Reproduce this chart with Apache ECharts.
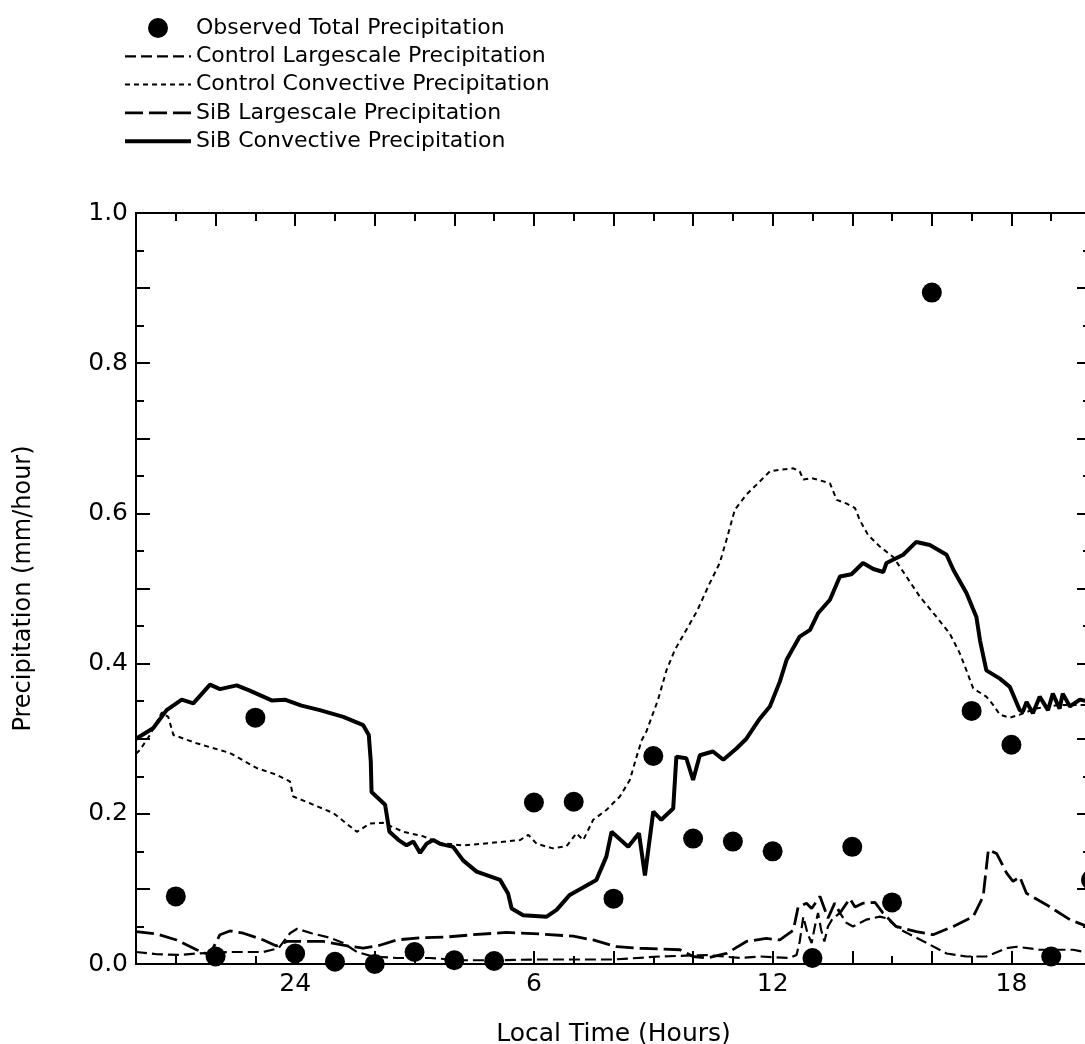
<!DOCTYPE html>
<html><head><meta charset="utf-8">
<script src="https://cdn.jsdelivr.net/npm/echarts@6/dist/echarts.min.js"></script>
<style>html,body{margin:0;padding:0;background:#fff}#c{width:1085px;height:1044px}</style>
</head><body><div id="c"></div>
<script>
// ---- Data (x = hours since 00 of day 1; 24 = midnight, 30 = 6h, 36 = 12h, 42 = 18h) ----
const obsHours  = [21,22,23,24,25,26,27,28,29,30,31,32,33,34,35,36,37,38,39,40,41,42,43,44];
const obsValues = [0.090,0.010,0.328,0.014,0.003,0.000,0.016,0.005,0.004,0.215,0.216,0.087,0.277,0.167,0.163,0.150,0.008,0.156,0.082,0.894,0.337,0.292,0.010,0.112];

const ctlLsHours  = [20.0,20.52,21.1,21.52,22.36,23.2,23.58,23.87,24.05,24.41,24.87,25.21,25.55,25.96,26.55,27.39,28.22,29.0,30.0,31.0,32.0,33.17,34.34,35.18,35.68,36.43,36.6,36.68,36.77,36.88,36.98,37.06,37.14,37.22,37.3,37.39,37.5,37.69,37.85,38.02,38.35,38.69,38.86,39.2,39.87,40.37,40.87,41.37,41.88,42.13,42.71,43.55,44.0];
const ctlLsValues = [0.016,0.013,0.012,0.014,0.016,0.016,0.021,0.041,0.047,0.041,0.035,0.028,0.016,0.010,0.008,0.008,0.005,0.005,0.006,0.006,0.006,0.010,0.012,0.008,0.010,0.008,0.012,0.030,0.063,0.040,0.028,0.050,0.068,0.045,0.030,0.050,0.060,0.068,0.055,0.050,0.059,0.063,0.061,0.046,0.028,0.014,0.010,0.010,0.021,0.023,0.019,0.019,0.014];

const ctlCvHours  = [20.0,20.1,20.35,20.65,20.81,20.94,21.52,22.36,23.03,23.53,23.87,23.95,24.37,24.96,25.29,25.55,25.88,26.21,26.72,27.22,27.64,28.22,28.89,29.65,29.86,30.07,30.48,30.82,31.07,31.24,31.49,31.82,31.95,32.16,32.41,32.58,32.71,32.83,33.12,33.33,33.54,34.1,34.4,34.67,34.84,35.05,35.34,35.59,35.93,36.18,36.52,36.68,36.77,36.98,37.19,37.44,37.61,37.86,38.07,38.19,38.4,38.69,39.03,39.36,39.7,40.12,40.45,40.7,40.87,41.04,41.37,41.54,41.71,41.96,42.21,42.6,43.2,44.0];
const ctlCvValues = [0.280,0.285,0.305,0.335,0.329,0.305,0.294,0.281,0.261,0.252,0.243,0.223,0.214,0.201,0.187,0.176,0.187,0.188,0.176,0.170,0.161,0.158,0.161,0.165,0.172,0.160,0.154,0.157,0.174,0.165,0.192,0.205,0.212,0.223,0.245,0.276,0.298,0.310,0.352,0.391,0.418,0.470,0.505,0.534,0.565,0.605,0.625,0.638,0.656,0.658,0.660,0.656,0.645,0.647,0.644,0.640,0.618,0.613,0.607,0.591,0.571,0.556,0.542,0.516,0.489,0.462,0.440,0.414,0.391,0.367,0.356,0.345,0.332,0.328,0.332,0.340,0.345,0.345];

const sibLsHours  = [20.0,20.52,21.02,21.52,21.85,22.11,22.36,22.7,23.2,23.53,23.79,24.2,24.71,25.21,25.71,26.13,26.55,27.14,27.81,28.48,29.31,30.15,30.99,31.49,32.08,32.66,33.17,33.67,34.0,34.34,34.84,35.34,35.84,36.18,36.52,36.64,36.85,36.98,37.19,37.39,37.56,37.69,37.94,38.07,38.27,38.57,38.77,39.1,39.61,40.03,40.54,41.04,41.29,41.42,41.63,41.88,42.04,42.21,42.38,42.88,43.47,44.0];
const sibLsValues = [0.043,0.040,0.032,0.019,0.012,0.039,0.044,0.041,0.032,0.024,0.030,0.030,0.030,0.025,0.021,0.025,0.032,0.035,0.036,0.039,0.042,0.040,0.037,0.032,0.023,0.021,0.020,0.019,0.010,0.008,0.014,0.030,0.034,0.032,0.045,0.076,0.081,0.074,0.090,0.061,0.081,0.068,0.087,0.076,0.081,0.082,0.068,0.050,0.043,0.039,0.050,0.063,0.090,0.152,0.147,0.121,0.110,0.116,0.094,0.079,0.059,0.048];

const sibCvHours  = [20.0,20.43,20.77,21.15,21.44,21.86,22.11,22.53,22.86,23.41,23.74,24.16,24.62,25.21,25.71,25.85,25.9,25.92,26.1,26.26,26.37,26.6,26.8,26.97,27.14,27.3,27.47,27.64,27.97,28.22,28.56,29.15,29.35,29.44,29.73,30.32,30.57,30.9,31.57,31.82,31.95,32.37,32.64,32.79,33.0,33.2,33.5,33.58,33.83,34.0,34.17,34.5,34.76,35.09,35.34,35.68,35.93,36.18,36.35,36.68,36.94,37.14,37.44,37.69,37.98,38.27,38.53,38.78,38.86,39.28,39.61,39.95,40.37,40.54,40.87,41.12,41.21,41.37,41.71,41.96,42.21,42.29,42.38,42.54,42.71,42.92,43.04,43.21,43.29,43.47,43.72,44.0];
const sibCvValues = [0.300,0.314,0.338,0.352,0.347,0.372,0.366,0.371,0.364,0.351,0.352,0.344,0.338,0.329,0.318,0.305,0.270,0.229,0.220,0.212,0.176,0.165,0.158,0.163,0.148,0.160,0.165,0.160,0.156,0.138,0.123,0.112,0.094,0.074,0.065,0.063,0.072,0.092,0.112,0.143,0.176,0.156,0.174,0.118,0.203,0.192,0.207,0.276,0.274,0.245,0.278,0.283,0.272,0.287,0.300,0.327,0.343,0.376,0.405,0.436,0.445,0.467,0.485,0.516,0.519,0.534,0.526,0.522,0.534,0.545,0.562,0.558,0.545,0.525,0.494,0.462,0.431,0.391,0.380,0.369,0.338,0.336,0.349,0.334,0.356,0.338,0.360,0.340,0.360,0.343,0.352,0.349];

const xLabelHours = [24, 30, 36, 42];
const xLabelTexts = ['24', '6', '12', '18'];
const yLabelValues = [0, 0.2, 0.4, 0.6, 0.8, 1.0];

const seriesNames = ['Observed Total Precipitation','Control Largescale Precipitation','Control Convective Precipitation','SiB Largescale Precipitation','SiB Convective Precipitation'];

// ---- Build ----
function pairs(xs, ys) { return xs.map((x, i) => [x, ys[i]]); }
const FONT = 'DejaVu Sans';
const BLACK = '#000';

function xFmt(v) {
  const i = xLabelHours.findIndex(h => Math.abs(h - v) < 1e-6);
  return i >= 0 ? xLabelTexts[i] : '';
}
function yFmt(v) {
  return yLabelValues.some(y => Math.abs(y - v) < 1e-6) ? v.toFixed(1) : '';
}

function xAxisCfg(pos, showLabels) {
  return {
    type: 'value', min: 20, max: 44, interval: 2, position: pos,
    axisLine: { show: true, onZero: false, lineStyle: { color: BLACK, width: 2 } },
    axisTick: { show: true, inside: true, length: 13, lineStyle: { color: BLACK, width: 2 } },
    minorTick: { show: true, splitNumber: 2, length: 8, lineStyle: { color: BLACK, width: 2 } },
    splitLine: { show: false },
    axisLabel: { show: showLabels, formatter: xFmt, fontSize: 25, color: BLACK, fontFamily: FONT, margin: 8 },
    name: showLabels ? 'Local Time (Hours)' : '',
    nameLocation: 'middle', nameGap: 58,
    nameTextStyle: { fontSize: 25, color: BLACK, fontFamily: FONT }
  };
}
function yAxisCfg(pos, showLabels) {
  return {
    type: 'value', min: 0, max: 1, interval: 0.1, position: pos,
    axisLine: { show: true, onZero: false, lineStyle: { color: BLACK, width: 2 } },
    axisTick: { show: true, inside: true, length: 14, lineStyle: { color: BLACK, width: 2 } },
    minorTick: { show: true, splitNumber: 2, length: 8, lineStyle: { color: BLACK, width: 2 } },
    splitLine: { show: false },
    axisLabel: { show: showLabels, formatter: yFmt, fontSize: 25, color: BLACK, fontFamily: FONT, margin: 8 },
    name: showLabels ? 'Precipitation (mm/hour)' : '',
    nameLocation: 'middle', nameGap: 100,
    nameTextStyle: { fontSize: 24, color: BLACK, fontFamily: FONT }
  };
}
function lineSeries(name, xs, ys, width, dash) {
  return {
    name: name, type: 'line', data: pairs(xs, ys), symbol: 'none', showSymbol: false, smooth: false,
    lineStyle: { color: BLACK, width: width, type: dash },
    itemStyle: { color: BLACK, opacity: 0 },
    clip: true, z: 3
  };
}

const option = {
  animation: false,
  backgroundColor: '#fff',
  textStyle: { fontFamily: FONT, color: BLACK },
  legend: {
    orient: 'vertical', left: 118, top: 12,
    itemWidth: 66, itemHeight: 20, itemGap: 6.3,
    textStyle: { fontSize: 22, color: BLACK, fontFamily: FONT },
    lineStyle: { width: 'inherit' },
    data: [
      { name: seriesNames[0] },
      { name: seriesNames[1], itemStyle: { opacity: 0 } },
      { name: seriesNames[2], itemStyle: { opacity: 0 } },
      { name: seriesNames[3], itemStyle: { opacity: 0 } },
      { name: seriesNames[4], itemStyle: { opacity: 0 } }
    ]
  },
  grid: { left: 136, top: 213, width: 955, height: 751, containLabel: false, outerBoundsMode: 'none' },
  xAxis: [xAxisCfg('bottom', true), xAxisCfg('top', false)],
  yAxis: [yAxisCfg('left', true), yAxisCfg('right', false)],
  series: [
    {
      name: seriesNames[0], type: 'scatter', data: pairs(obsHours, obsValues),
      symbol: 'circle', symbolSize: 20, itemStyle: { color: BLACK, opacity: 1 }, clip: false, z: 4
    },
    lineSeries(seriesNames[1], ctlLsHours, ctlLsValues, 2.2, [11, 5]),
    lineSeries(seriesNames[2], ctlCvHours, ctlCvValues, 2, [5, 4]),
    lineSeries(seriesNames[3], sibLsHours, sibLsValues, 2.8, [18, 6]),
    lineSeries(seriesNames[4], sibCvHours, sibCvValues, 4, 'solid')
  ]
};

const chart = echarts.init(document.getElementById('c'), null, { renderer: 'canvas' });
chart.setOption(option);
</script>
</body></html>
